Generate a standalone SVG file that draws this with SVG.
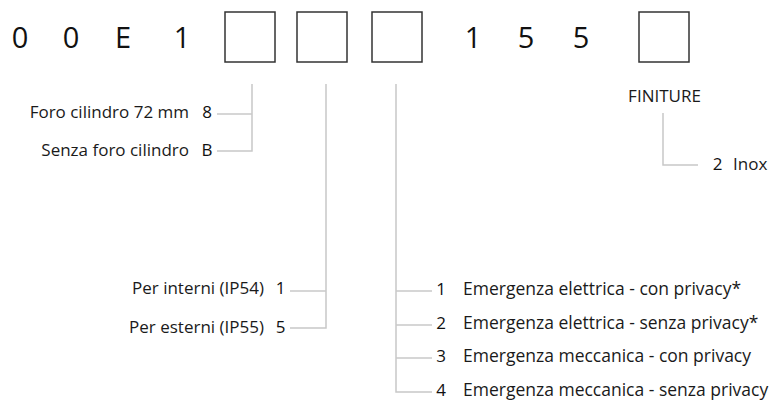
<svg xmlns="http://www.w3.org/2000/svg" width="771" height="401" viewBox="0 0 771 401">
<style>
.big{font-family:"Open Sans","Liberation Sans",sans-serif;font-size:29px;fill:#111;text-anchor:middle}
.lbl{font-family:"Open Sans","Liberation Sans",sans-serif;font-size:17px;fill:#1a1a1a}
.em{font-size:17.5px}
.code{font-family:"Open Sans","Liberation Sans",sans-serif;font-size:17px;fill:#111;text-anchor:middle}
.end{text-anchor:end}
.mid{text-anchor:middle}
.box{fill:#fff;stroke:#333;stroke-width:1.5}
.ln{fill:none;stroke:#c8c8c8;stroke-width:1.5}
</style>
<rect width="771" height="401" fill="#fff"/>
<g id="code">
<text class="big" x="20" y="48">0</text>
<text class="big" x="71" y="48">0</text>
<text class="big" x="123" y="48">E</text>
<text class="big" x="182" y="48">1</text>
<rect class="box" x="225" y="12" width="50" height="50"/>
<rect class="box" x="297" y="12" width="50" height="50"/>
<rect class="box" x="372" y="12" width="50" height="50"/>
<text class="big" x="473" y="48">1</text>
<text class="big" x="526" y="48">5</text>
<text class="big" x="581" y="48">5</text>
<rect class="box" x="639" y="12" width="50" height="50"/>
</g>
<g id="connectors">
<polyline class="ln" points="252,84 252,151 217,151"/>
<line class="ln" x1="217" y1="114" x2="252" y2="114"/>
<polyline class="ln" points="326,84 326,328 290,328"/>
<line class="ln" x1="290" y1="291" x2="326" y2="291"/>
<polyline class="ln" points="396,84 396,392 432,392"/>
<line class="ln" x1="396" y1="291" x2="432" y2="291"/>
<line class="ln" x1="396" y1="325" x2="432" y2="325"/>
<line class="ln" x1="396" y1="358" x2="432" y2="358"/>
<polyline class="ln" points="663,113 663,165 698,165"/>
</g>
<g id="foro">
<text class="lbl end" x="189" y="118">Foro cilindro 72 mm</text>
<text class="code" x="207" y="118">8</text>
<text class="lbl end" x="189" y="156">Senza foro cilindro</text>
<text class="code" x="207" y="156">B</text>
</g>
<g id="ip">
<text class="lbl end" x="264" y="294">Per interni (IP54)</text>
<text class="code" x="280.5" y="294">1</text>
<text class="lbl end" x="264" y="333">Per esterni (IP55)</text>
<text class="code" x="280.5" y="333">5</text>
</g>
<g id="emergenza">
<text class="code" x="441" y="295">1</text>
<text class="lbl em" x="463" y="295">Emergenza elettrica - con privacy*</text>
<text class="code" x="441" y="329">2</text>
<text class="lbl em" x="463" y="329">Emergenza elettrica - senza privacy*</text>
<text class="code" x="441" y="362">3</text>
<text class="lbl em" x="463" y="362">Emergenza meccanica - con privacy</text>
<text class="code" x="441" y="396">4</text>
<text class="lbl em" x="463" y="396">Emergenza meccanica - senza privacy</text>
</g>
<g id="finiture">
<text class="lbl mid" x="664.5" y="102">FINITURE</text>
<text class="code" x="717.5" y="170">2</text>
<text class="lbl" x="733" y="170">Inox</text>
</g>
</svg>
